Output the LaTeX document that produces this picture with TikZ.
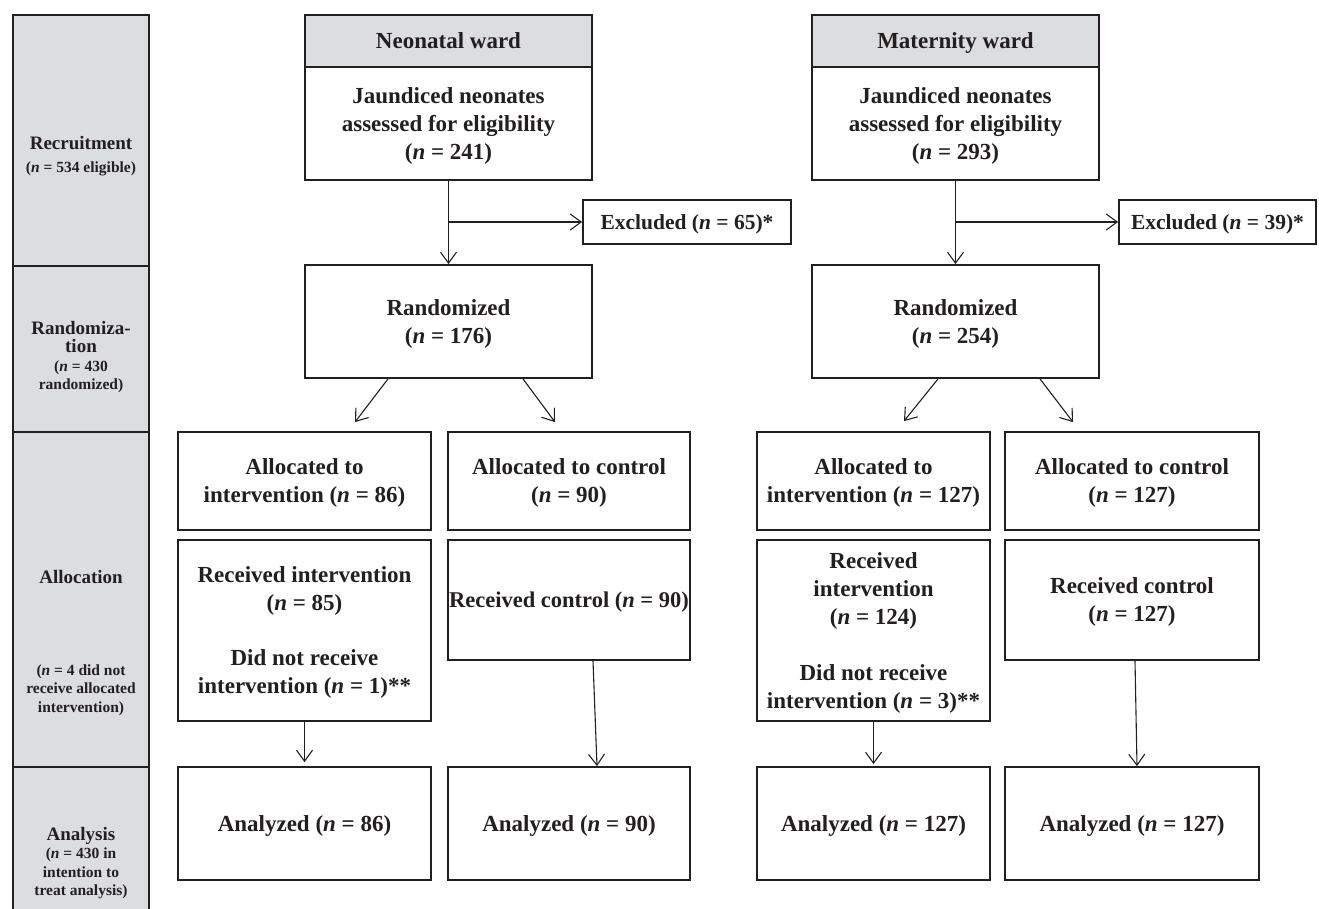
\documentclass[tikz,border=0pt]{standalone}
\usepackage{fontspec}
\setmainfont{Liberation Serif}
\usetikzlibrary{arrows.meta}
\definecolor{ink}{HTML}{231F20}
\definecolor{stagefill}{HTML}{DCDDDF}
\newcommand{\nvar}{\textit{n}}
\newcommand{\stagehead}[1]{{\fontsize{19}{19}\selectfont #1}}
\tikzset{
  box/.style={draw=ink, line width=1.8pt, inner sep=0pt, align=center, text=ink, text depth=0pt,
    font=\fontsize{23}{28}\selectfont\bfseries},
  head/.style={box, fill=stagefill},
  excl/.style={box, font=\fontsize{21.5}{28}\selectfont\bfseries},
  wh/.style 2 args={minimum width=#1pt, minimum height=#2pt},
  stage/.style={draw=ink, line width=1.8pt, fill=stagefill, inner sep=0pt, minimum width=136pt},
  stagetxt/.style={align=center, inner sep=0pt, text=ink, font=\fontsize{15.5}{18.5}\selectfont\bfseries},
  arr/.style={-{Straight Barb[length=11pt,width=16pt]}, draw=ink, line width=1.1pt}
}
\begin{document}
\begin{tikzpicture}[x=1pt, y=-1pt]
\useasboundingbox (0,0) rectangle (1319,909);
\node [stage, minimum height=251pt] (stRec) at (81,140.5) {};
\node [stage, minimum height=166pt] (stRand) at (81,349) {};
\node [stage, minimum height=335pt] (stAlloc) at (81,599.5) {};
\node [stage, minimum height=148pt] (stAna) at (81,841) {};
\node [stagetxt] (lbRec) at (81,156) {\stagehead{Recruitment}\\[5pt](\nvar{} = 534 eligible)};
\node [stagetxt] (lbRand) at (81,357) {\stagehead{Randomiza-}\\\stagehead{tion}\\(\nvar{} = 430\\randomized)};
\node [stagetxt] (lbAlloc) at (81,577) {\stagehead{Allocation}};
\node [stagetxt] (lbAllocN) at (81,690) {(\nvar{} = 4 did not\\receive allocated\\intervention)};
\node [stagetxt] (lbAna) at (81,863) {\stagehead{Analysis}\\(\nvar{} = 430 in\\intention to\\treat analysis)};

\node [head, wh={287}{52}] (neoHead) at (448.5,41) {Neonatal ward};
\node [box, wh={287}{113}] (neoJaun) at (448.5,123.5) {Jaundiced neonates\\assessed for eligibility\\(\nvar{} = 241)};
\node [excl, wh={208}{44}] (neoExcl) at (687,222) {Excluded (\nvar{} = 65)*};
\node [box, wh={287}{113}] (neoRand) at (448.5,321.5) {Randomized\\(\nvar{} = 176)};
\node [box, wh={253}{98}] (neoAllocInt) at (304.5,481) {Allocated to\\intervention (\nvar{} = 86)};
\node [box, wh={242}{98}] (neoAllocCtl) at (569,481) {Allocated to control\\(\nvar{} = 90)};
\node [box, wh={253}{181}] (neoRecInt) at (304.5,630.5) {Received intervention\\(\nvar{} = 85)\\[27pt]Did not receive\\intervention (\nvar{} = 1)**};
\node [box, wh={242}{120}, font=\fontsize{22.5}{28}\selectfont\bfseries] (neoRecCtl) at (569,600) {Received control (\nvar{} = 90)};
\node [box, wh={253}{113}] (neoAnaInt) at (304.5,823.5) {Analyzed (\nvar{} = 86)};
\node [box, wh={242}{113}] (neoAnaCtl) at (569,823.5) {Analyzed (\nvar{} = 90)};

\node [head, wh={287}{52}] (matHead) at (955.5,41) {Maternity ward};
\node [box, wh={287}{113}] (matJaun) at (955.5,123.5) {Jaundiced neonates\\assessed for eligibility\\(\nvar{} = 293)};
\node [excl, wh={197}{44}] (matExcl) at (1217.5,222) {Excluded (\nvar{} = 39)*};
\node [box, wh={287}{113}] (matRand) at (955.5,321.5) {Randomized\\(\nvar{} = 254)};
\node [box, wh={233}{98}] (matAllocInt) at (873.5,481) {Allocated to\\intervention (\nvar{} = 127)};
\node [box, wh={254}{98}] (matAllocCtl) at (1132,481) {Allocated to control\\(\nvar{} = 127)};
\node [box, wh={233}{181}] (matRecInt) at (873.5,630.5) {Received\\intervention\\(\nvar{} = 124)\\[28pt]Did not receive\\intervention (\nvar{} = 3)**};
\node [box, wh={254}{120}] (matRecCtl) at (1132,600) {Received control\\(\nvar{} = 127)};
\node [box, wh={233}{113}] (matAnaInt) at (873.5,823.5) {Analyzed (\nvar{} = 127)};
\node [box, wh={254}{113}] (matAnaCtl) at (1132,823.5) {Analyzed (\nvar{} = 127)};

\draw [arr] (neoJaun) -- (neoRand);
\draw [arr] (neoJaun.south |- neoExcl) -- (neoExcl);
\draw [arr] ([xshift=-60.5pt]neoRand.south) -- ([xshift=50.5pt,yshift=9pt]neoAllocInt.north);
\draw [arr] ([xshift=74.5pt]neoRand.south) -- ([xshift=-14pt,yshift=9pt]neoAllocCtl.north);
\draw [arr] (neoRecInt) -- ([yshift=4pt]neoAnaInt.north);
\draw [arr] ([xshift=24pt]neoRecCtl.south) -- ([xshift=28pt]neoAnaCtl.north);

\draw [arr] (matJaun) -- (matRand);
\draw [arr] (matJaun.south |- matExcl) -- (matExcl);
\draw [arr] ([xshift=-17.5pt]matRand.south) -- ([xshift=30.5pt,yshift=10pt]matAllocInt.north);
\draw [arr] ([xshift=84.5pt]matRand.south) -- ([xshift=-59pt,yshift=9pt]matAllocCtl.north);
\draw [arr] (matRecInt) -- ([yshift=2pt]matAnaInt.north);
\draw [arr] ([xshift=3pt]matRecCtl.south) -- ([xshift=5pt]matAnaCtl.north);
\end{tikzpicture}
\end{document}
